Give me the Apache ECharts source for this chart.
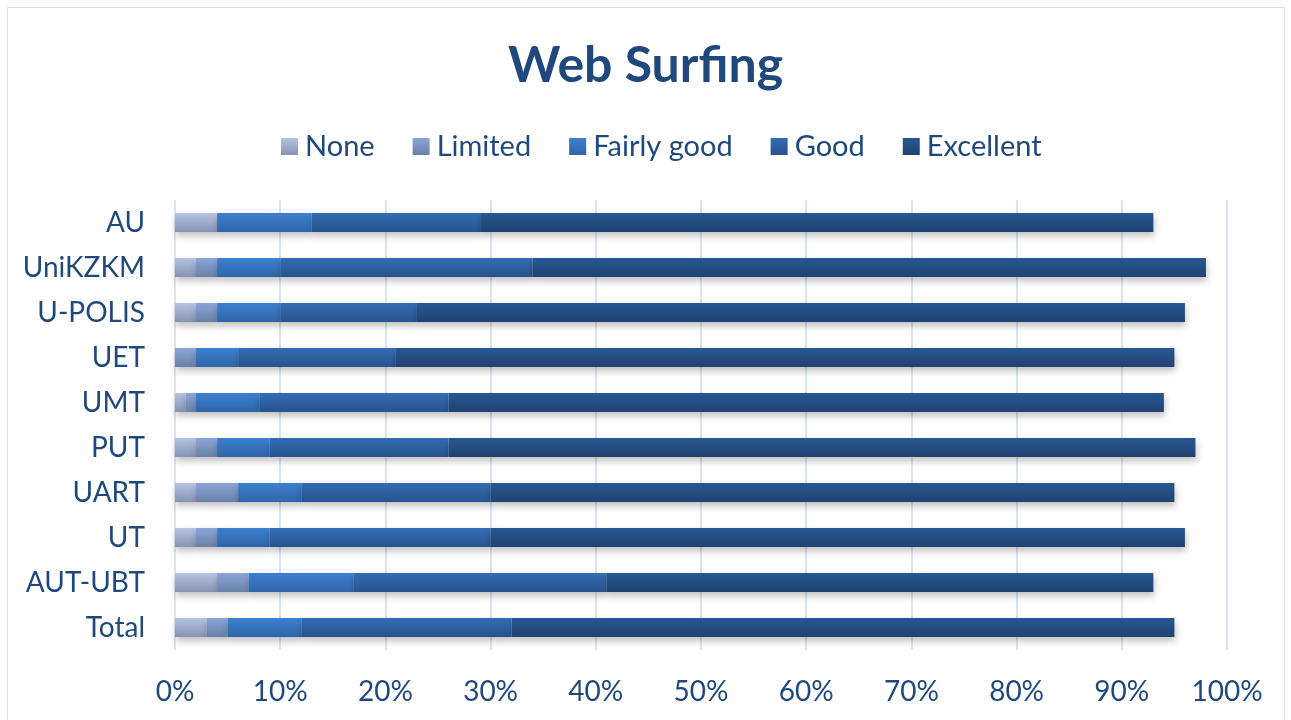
<!DOCTYPE html>
<html>
<head>
<meta charset="utf-8">
<title>Web Surfing</title>
<script src="https://cdn.jsdelivr.net/npm/echarts@6/dist/echarts.min.js"></script>
<style>
  html, body { margin: 0; padding: 0; background: #fff; }
  #main { width: 1291px; height: 720px; }
  .frame { position: absolute; left: 7px; top: 7px; width: 1278px; height: 720px; border: 1px solid #d9e3f0; box-sizing: border-box; pointer-events: none; }
</style>
</head>
<body>
<div id="main"></div>
<div class="frame"></div>
<script>
// categories top to bottom
var categories = ['AU', 'UniKZKM', 'U-POLIS', 'UET', 'UMT', 'PUT', 'UART', 'UT', 'AUT-UBT', 'Total'];
var levels = ['None', 'Limited', 'Fairly good', 'Good', 'Excellent'];
// percent values per level
var none       = [4, 2, 2, 0, 1, 2, 2, 2, 4, 3];
var limited    = [0, 2, 2, 2, 1, 2, 4, 2, 3, 2];
var fairlyGood = [9, 6, 6, 4, 6, 5, 6, 5, 10, 7];
var good       = [16, 24, 13, 15, 18, 17, 18, 21, 24, 20];
var excellent  = [64, 64, 73, 74, 68, 71, 65, 66, 52, 63];
var xTicks = [0, 10, 20, 30, 40, 50, 60, 70, 80, 90, 100];

var values = [none, limited, fairlyGood, good, excellent];
var grads = [
  ['#b6c3e2', '#8793b2'],
  ['#8ba5d8', '#6980a8'],
  ['#3d80cf', '#2f65a9'],
  ['#346db3', '#27538e'],
  ['#285892', '#1f4272']
];
var txt = '#1f497d';
var font = 'Lato, "Open Sans", sans-serif';

function grad(c) {
  return new echarts.graphic.LinearGradient(0, 0, 0, 1, [
    { offset: 0, color: c[0] },
    { offset: 1, color: c[1] }
  ]);
}

var series = levels.map(function (name, i) {
  return {
    name: name,
    type: 'bar',
    stack: 'all',
    barWidth: 19,
    data: values[i],
    itemStyle: {
      color: grad(grads[i]),
      shadowColor: 'rgba(0,0,0,0.25)',
      shadowBlur: 7,
      shadowOffsetY: 4,
      shadowOffsetX: 1
    },
    emphasis: { disabled: true }
  };
});

var myChart = echarts.init(document.getElementById('main'));
myChart.setOption({
  animation: false,
  backgroundColor: '#fff',
  title: {
    text: 'Web Surfing',
    left: 'center',
    top: 36,
    textStyle: { fontFamily: font, fontSize: 50, fontWeight: 'bold', color: txt }
  },
  legend: {
    data: levels.map(function (n, i) { return { name: n, itemStyle: { color: grad(grads[i]) } }; }),
    top: 127,
    left: 276,
    icon: 'rect',
    itemWidth: 17,
    itemHeight: 17,
    itemGap: 38,
    textStyle: { fontFamily: font, fontSize: 29, color: txt, padding: [0, 0, 0, 2] }
  },
  grid: { left: 175, right: 64, top: 200, bottom: 70 },
  xAxis: {
    type: 'value',
    min: 0,
    max: 100,
    interval: 10,
    axisLine: { show: false },
    axisTick: { show: false },
    splitLine: { lineStyle: { color: '#d9e4f3', width: 2 } },
    axisLabel: {
      fontFamily: font, fontSize: 28, color: txt, margin: 28,
      formatter: function (v) { return xTicks.indexOf(v) >= 0 ? v + '%' : ''; }
    }
  },
  yAxis: {
    type: 'category',
    inverse: true,
    data: categories,
    axisLine: { show: false },
    axisTick: { show: false },
    axisLabel: { fontFamily: font, fontSize: 28, color: txt, margin: 30 }
  },
  series: series
});
</script>
</body>
</html>
